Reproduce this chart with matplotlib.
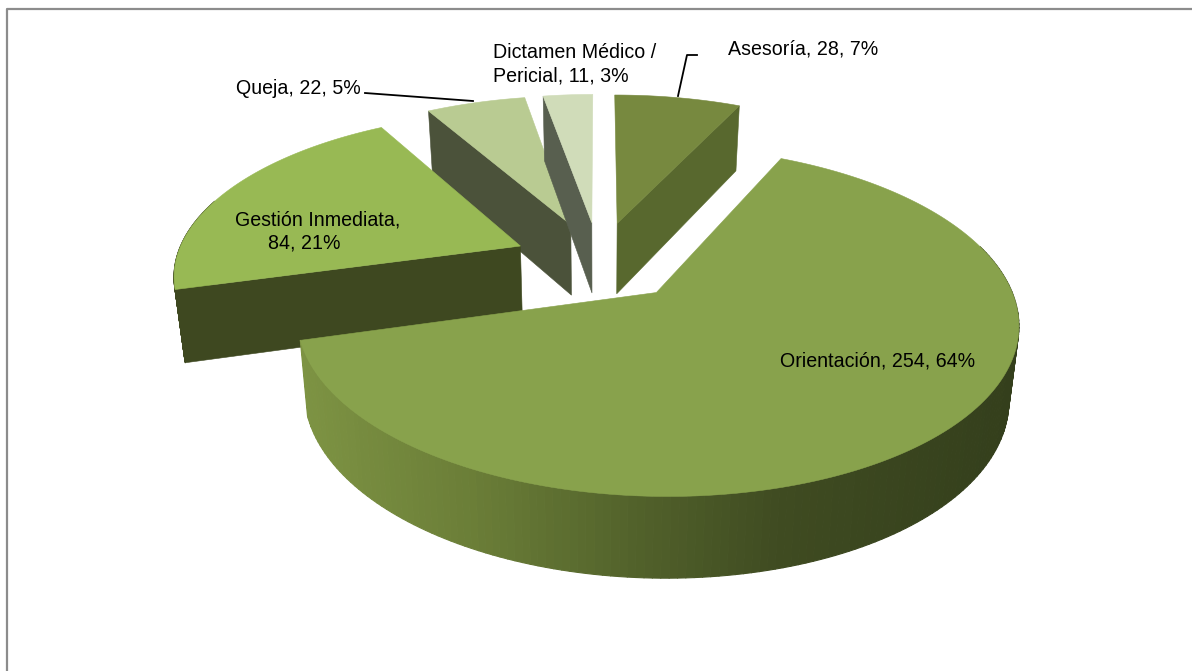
import matplotlib
matplotlib.use('Agg')
import matplotlib.pyplot as plt
from matplotlib.collections import PolyCollection
from matplotlib.colors import LinearSegmentedColormap
import numpy as np

plt.rcParams['font.family'] = ['Liberation Sans', 'DejaVu Sans']

# datos
categorias = ['Asesoría', 'Orientación', 'Gestión Inmediata', 'Queja', 'Dictamen Médico / Pericial']
valores = [28, 254, 84, 22, 11]
porcentajes = [7, 64, 21, 5, 3]

color_tapa = ['#77893f', '#88a24c', '#98b954', '#b9cb92', '#d0dcb9']
color_lado = ['#58682e', '#3a441e', '#3e4820', '#4b523a', '#585f4f']

# proyeccion del pastel (en pixeles de la figura)
cx, cy = 599, 261
A, B = 345, 160
k = 0.16
explode = 0.25
alto = 72
enc = 0.976

gradiente = LinearSegmentedColormap.from_list('pared', [
    (0.0, '#7d9343'), (0.25, '#6a7d37'), (0.47, '#52622b'), (0.68, '#3f4b21'), (1.0, '#343f1c')])


def proy(X, Y):
    s = 1 / (1 + k * Y)
    return cx + A * X * s, cy - B * Y * s


def proy_abajo(X, Y):
    s = 1 / (1 + k * Y)
    return cx + A * X * s * enc, cy - B * Y * s + alto * s ** 0.6


fig = plt.figure(figsize=(11.92, 6.71), dpi=100)
ax = fig.add_axes([0, 0, 1, 1])
ax.set_xlim(0, 1192)
ax.set_ylim(671, 0)
ax.axis('off')

# marco
ax.plot([6.5, 6.5, 1192], [671, 8.5, 8.5], color='#8c8c8c', lw=1.6, solid_capstyle='butt')

total = sum(valores)
fin = np.cumsum(valores) / total * 2 * np.pi
ini = np.concatenate([[0], fin[:-1]])

# de atras hacia adelante
for i in [3, 4, 0, 2, 1]:
    medio = (ini[i] + fin[i]) / 2
    ex, ey = explode * np.sin(medio), explode * np.cos(medio)
    t = np.linspace(ini[i], fin[i], 200)
    X = ex + np.sin(t)
    Y = ey + np.cos(t)

    # pared exterior (solo la parte que mira al frente)
    xt, yt = proy(X, Y)
    xb, yb = proy_abajo(X, Y)
    quads = []
    cols = []
    for j in range(len(t) - 1):
        if np.cos(t[j]) > 0.3:
            continue
        quads.append([(xt[j], yt[j]), (xt[j + 1], yt[j + 1]), (xb[j + 1], yb[j + 1]), (xb[j], yb[j])])
        if i == 1:
            cols.append(gradiente((xt[j] - 300) / (1018 - 300)))
        else:
            cols.append(color_lado[i])
    if quads:
        ax.add_collection(PolyCollection(quads, facecolors=cols, edgecolors=cols, linewidths=0.8))

    # caras de corte visibles
    for ang, normal in [(ini[i], ini[i] - np.pi / 2), (fin[i], fin[i] + np.pi / 2)]:
        if np.cos(normal) < -1e-6:
            xa, ya = proy(ex, ey)
            xe, ye = proy(ex + np.sin(ang), ey + np.cos(ang))
            xa2, ya2 = proy_abajo(ex, ey)
            xe2, ye2 = proy_abajo(ex + np.sin(ang), ey + np.cos(ang))
            ax.fill([xa, xe, xe2, xa2], [ya, ye, ye2, ya2], color=color_lado[i], lw=0.4)

    # tapa
    xa, ya = proy(ex, ey)
    ax.fill(np.r_[xa, xt], np.r_[ya, yt], color=color_tapa[i], lw=0.4)

# guias
ax.plot([365, 473], [93, 101], color='black', lw=1.3)
ax.plot([697, 687, 678], [55, 55, 96], color='black', lw=1.3)

# etiquetas
fs = 14.1
ax.text(878, 361, f'{categorias[1]}, {valores[1]}, {porcentajes[1]}%', fontsize=fs, ha='center', va='center')
ax.text(803.5, 49, f'{categorias[0]}, {valores[0]}, {porcentajes[0]}%', fontsize=fs, ha='center', va='center')
ax.text(298, 88, f'{categorias[3]}, {valores[3]}, {porcentajes[3]}%', fontsize=fs, ha='center', va='center')
ax.text(318, 220, f'{categorias[2]},', fontsize=fs, ha='center', va='center')
ax.text(304, 243, f'{valores[2]}, {porcentajes[2]}%', fontsize=fs, ha='center', va='center')
ax.text(493, 53, 'Dictamen Médico /', fontsize=fs, ha='left', va='center')
ax.text(493, 76, f'Pericial, {valores[4]}, {porcentajes[4]}%', fontsize=fs, ha='left', va='center')

fig.savefig('out.png', dpi=100)
print('finish')
